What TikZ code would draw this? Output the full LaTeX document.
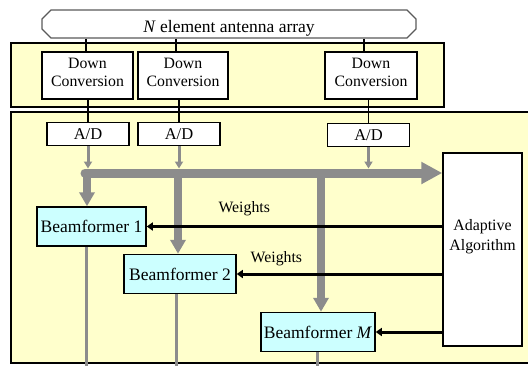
\documentclass[tikz,border=0pt]{standalone}
\usepackage{fontspec}
\setmainfont{Liberation Serif}
\usetikzlibrary{arrows.meta,shapes.misc}
\definecolor{bgyel}{HTML}{FFFFCC}
\definecolor{bfcyan}{HTML}{CCFFFF}
\definecolor{busgray}{HTML}{8C8C8C}
\definecolor{antgray}{HTML}{5A5A5A}
\begin{document}
\begin{tikzpicture}[x=1pt,y=-1pt,
  panel/.style={draw=black,line width=1.5pt,fill=bgyel},
  antbox/.style={chamfered rectangle,chamfered rectangle xsep=6pt,draw=antgray,line width=1.3pt,fill=white,
    minimum width=374pt,minimum height=28pt,inner sep=0pt,text height=16pt,text depth=0pt,
    font=\fontsize{17.5}{20}\selectfont},
  dcbox/.style={draw=black,line width=1.5pt,fill=white,inner sep=0pt,align=center,minimum height=47pt,
    text depth=7pt,font=\fontsize{15.8}{18}\selectfont},
  adbox/.style={draw=black,line width=1.5pt,fill=white,inner sep=0pt,minimum width=82pt,minimum height=23pt,
    font=\fontsize{16.5}{18}\selectfont},
  bfbox/.style={draw=black,line width=1.5pt,fill=bfcyan,inner sep=0pt,minimum height=39pt,
    font=\fontsize{17.5}{20}\selectfont},
  algbox/.style={draw=black,line width=1.5pt,fill=white,inner sep=0pt,align=center,minimum width=79pt,
    minimum height=193pt,text depth=30pt,font=\fontsize{15.9}{20}\selectfont},
  thin/.style={draw=black,line width=1.5pt},
  adarr/.style={draw=busgray,line width=3pt,-{Triangle[length=7pt,width=8pt]}},
  bus/.style={draw=busgray,line width=9pt,line cap=round,-{Triangle[length=21pt,width=21pt]}},
  branch/.style={draw=busgray,line width=7.5pt,-{Triangle[length=14pt,width=15pt]}},
  outl/.style={draw=busgray,line width=3pt},
  warr/.style={draw=black,line width=3pt,-{Triangle[length=6pt,width=8pt]}},
  wlab/.style={font=\fontsize{15.8}{18}\selectfont,inner sep=0pt}
]
\useasboundingbox (0,0) rectangle (528,365);
% panels
\draw[panel] (11,43) rectangle (444,107);
\fill[bgyel] (11,112) rectangle (528,363);
\draw[black,line width=1.5pt] (528,112) -- (11,112) -- (11,363) -- (528,363);

% antenna array
\node[antbox] (ant) at (229,24) {\textit{N} element antenna array};

% down conversion
\node[dcbox,minimum width=91pt] (dc1) at (87.5,75.5) {Down\\Conversion};
\node[dcbox,minimum width=90pt] (dc2) at (183,75.5) {Down\\Conversion};
\node[dcbox,minimum width=92pt] (dc3) at (371,75.5) {Down\\Conversion};

% A/D
\node[adbox] (ad1) at (88,134) {A/D};
\node[adbox] (ad2) at (179,134) {A/D};
\node[adbox] (ad3) at (368.5,135) {A/D};

% beamformers and algorithm
\node[bfbox,minimum width=109pt] (bf1) at (91.5,226.5) {Beamformer 1};
\node[bfbox,minimum width=112pt] (bf2) at (180,274) {Beamformer 2};
\node[bfbox,minimum width=114pt] (bfm) at (318,332) {Beamformer \textit{M}};
\node[algbox] (alg) at (482.5,249.5) {Adaptive\\Algorithm};

% column coordinates
\coordinate (a1) at (86,0);
\coordinate (a2) at (176,0);
\coordinate (a3) at (364,0);
\coordinate (k1) at (87,173);
\coordinate (k2) at (178,173);
\coordinate (k3) at (321,173);
\coordinate (busL) at (85,173);
\coordinate (bustop) at (0,168.5);
\coordinate (bot) at (0,366);
\coordinate (o1) at (86,0);
\coordinate (o2) at (176,0);
\coordinate (o3) at (317,0);

% antenna to down conversion
\draw[thin] (ant.south -| a1) -- (dc1.north -| a1);
\draw[thin] (ant.south -| a2) -- (dc2.north -| a2);
\draw[thin] (ant.south -| a3) -- (dc3.north -| a3);
% down conversion to A/D
\draw[thin] (dc1.south -| ad1.north) -- (ad1.north);
\draw[thin] (dc2.south -| ad2.north) -- (ad2.north);
\draw[thin] (dc3.south -| ad3.north) -- (ad3.north);

% bus
\draw[bus] (busL) -- (busL -| alg.west);
% A/D to bus
\draw[adarr] (ad1.south) -- (ad1.south |- bustop);
\draw[adarr] (ad2.south) -- (ad2.south |- bustop);
\draw[adarr] (ad3.south) -- (ad3.south |- bustop);
% branches
\draw[branch] (k1) -- (k1 |- bf1.north);
\draw[branch] (k2) -- (k2 |- bf2.north);
\draw[branch] (k3) -- (k3 |- bfm.north);
% outputs
\draw[outl] (bf1.south -| o1) -- (bot -| o1);
\draw[outl] (bf2.south -| o2) -- (bot -| o2);
\draw[outl] (bfm.south -| o3) -- (bot -| o3);

% weights
\draw[warr] (alg.west |- bf1.east) -- (bf1.east) node[wlab,pos=0.67,yshift=18pt] {Weights};
\draw[warr] (alg.west |- bf2.east) -- (bf2.east) node[wlab,pos=0.807,yshift=15pt] {Weights};
\draw[warr] (alg.west |- bfm.east) -- (bfm.east);
\end{tikzpicture}
\end{document}
